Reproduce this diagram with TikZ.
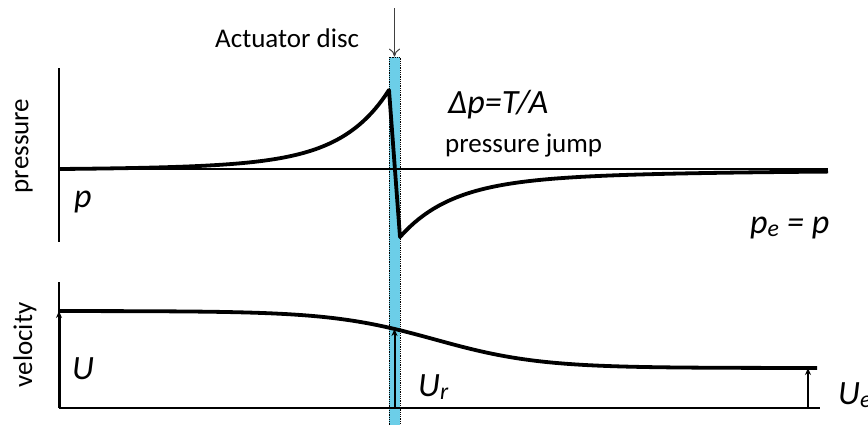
\documentclass[tikz,border=0pt]{standalone}
\usepackage{fontspec}
\setmainfont{Carlito}
\usepackage{xcolor}
\usepackage{tikz}
\usetikzlibrary{arrows.meta, positioning}
\definecolor{discblue}{RGB}{108,206,232}

\begin{document}
\begin{tikzpicture}[
    x=1pt, y=-1pt,
    axis/.style={line width=1.3pt},
    curve/.style={line width=3.8pt, line join=round},
    arrow/.style={-{Stealth[length=7pt,width=6pt]}, line width=2.4pt},
    lbl/.style={font=\fontsize{27}{30}\selectfont, inner sep=0pt},
    sym/.style={font=\fontsize{34}{38}\selectfont\itshape, inner sep=0pt, anchor=base west}
]
\useasboundingbox (0,0) rectangle (868,424);

% Actuator disc
\node (disc) [fill=discblue, draw, densely dotted, line width=0.8pt, minimum width=11pt, minimum height=372pt, inner sep=0pt] at (394.5,243) {};
\coordinate (disctop) at (394.5,8);
\draw[-{To[length=8pt,width=11pt]}, line width=1pt, black!75] (disctop) -- (disc.north);
\node (actlbl) [lbl, anchor=base west] at (215,47) {Actuator disc};

% Pressure axes
\coordinate (ptop) at (59,68);
\coordinate (pbot) at (59,242);
\coordinate (p0) at (59,169);
\coordinate (pend) at (828,169);
\draw[axis] (ptop) -- (pbot);
\draw[axis] (p0) -- (pend);

% Pressure curve
\draw[curve] plot[domain=59:389, samples=100] (\x,{170-65*exp(-(389-\x)/45)-15*exp(-(389-\x)/120)})
    -- (400,237)
    -- plot[domain=400:828, samples=90] (\x,{170+67*(0.8*exp(-(\x-400)/50)+0.2*exp(-(\x-400)/200))});

% Velocity axes
\coordinate (vtop) at (59,282);
\coordinate (v0) at (59,408);
\coordinate (vend) at (820,408);
\draw[axis] (vtop) -- (v0);
\draw[axis, line width=2pt] (v0) -- (vend);

% Velocity curve
\draw[curve] plot[domain=59:817, samples=120] (\x,{311+57/(1+exp(-(\x-435)/52))});

% Velocity arrows
\coordinate (u1) at (59,311);
\coordinate (ur0) at (394.5,408);
\coordinate (ur1) at (394.5,329);
\coordinate (ue0) at (808,408);
\coordinate (ue1) at (808,368);
\draw[arrow, line width=3pt] (v0) -- (u1);
\draw[arrow, line width=2pt] (ur0) -- (ur1);
\draw[arrow, line width=2.6pt] (ue0) -- (ue1);

% Labels
\node (plbl) [lbl, rotate=90] at (24,146) {pressure};
\node (vlbl) [lbl, rotate=90] at (25,345) {velocity};
\node (dplbl) [sym] at (448,113) {Δp=T/A};
\node (jumplbl) [lbl, anchor=base west] at (445,152) {pressure jump};
\node (plbl0) [sym] at (74,207) {p};
\node (pelbl) [sym] at (750,233) {p\textsubscript{e} = p};
\node (ulbl) [sym] at (72,379) {U};
\node (urlbl) [sym] at (418,396) {U\textsubscript{r}};
\node (uelbl) [sym] at (838,404) {U\textsubscript{e}};

\end{tikzpicture}
\end{document}
